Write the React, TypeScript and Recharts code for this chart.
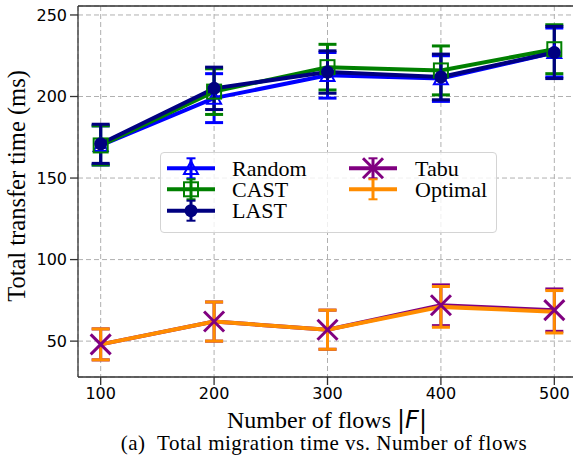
import {
  CartesianGrid,
  ComposedChart,
  ErrorBar,
  Legend,
  Line,
  ReferenceLine,
  XAxis,
  YAxis,
} from "recharts";

// values (mean and +/- error per number of flows)
const flows = [100, 200, 300, 400, 500];
const randomMean = [170, 199, 213, 211, 227];
const randomErr = [12, 15, 14, 14, 15];
const castMean = [170, 203, 218, 216, 229];
const castErr = [12, 14, 14, 15, 15];
const lastMean = [171, 205, 215, 212, 227];
const lastErr = [12, 13, 13, 14, 16];
const tabuMean = [48, 62, 57, 72, 69];
const tabuErr = [9.5, 12, 12, 12.5, 13];
const optimalMean = [48, 62, 57, 71, 68];
const optimalErr = [9.5, 12, 12, 12.5, 13];

const yTicks = [50, 100, 150, 200, 250];
const Y_MIN = 28;
const Y_MAX = 255.5;

const data = flows.map((f, i) => ({
  flows: f,
  random: randomMean[i],
  randomErr: randomErr[i],
  cast: castMean[i],
  castErr: castErr[i],
  last: lastMean[i],
  lastErr: lastErr[i],
  tabu: tabuMean[i],
  tabuErr: tabuErr[i],
  optimal: optimalMean[i],
  optimalErr: optimalErr[i],
}));

type Marker = "triangle" | "square" | "circle" | "x" | "none";

const series: { key: string; name: string; color: string; marker: Marker }[] = [
  { key: "random", name: "Random", color: "#0000ff", marker: "triangle" },
  { key: "cast", name: "CAST", color: "#008000", marker: "square" },
  { key: "last", name: "LAST", color: "#000080", marker: "circle" },
  { key: "tabu", name: "Tabu", color: "#800080", marker: "x" },
  { key: "optimal", name: "Optimal", color: "#ff8c00", marker: "none" },
];

const serif = "'Liberation Serif', 'Times New Roman', serif";
const sans = "'DejaVu Sans', sans-serif";

function MarkerShape({ cx, cy, marker, color }: { cx: number; cy: number; marker: Marker; color: string }) {
  if (marker === "triangle") {
    const s = 7;
    return (
      <polygon
        points={`${cx},${cy - s} ${cx - s},${cy + s * 0.8} ${cx + s},${cy + s * 0.8}`}
        fill="none"
        stroke={color}
        strokeWidth={2}
      />
    );
  }
  if (marker === "square") {
    return <rect x={cx - 7} y={cy - 7} width={14} height={14} fill="none" stroke={color} strokeWidth={2} />;
  }
  if (marker === "circle") {
    return <circle cx={cx} cy={cy} r={6.5} fill={color} />;
  }
  if (marker === "x") {
    const s = 10;
    return (
      <g stroke={color} strokeWidth={3}>
        <line x1={cx - s} y1={cy - s} x2={cx + s} y2={cy + s} />
        <line x1={cx - s} y1={cy + s} x2={cx + s} y2={cy - s} />
      </g>
    );
  }
  return null;
}

function makeDot(marker: Marker, color: string) {
  return (props: any) => {
    const { cx, cy, index } = props;
    if (marker === "none" || cx == null || cy == null) return <g key={`d-${index}`} />;
    return (
      <g key={`d-${index}`}>
        <MarkerShape cx={cx} cy={cy} marker={marker} color={color} />
      </g>
    );
  };
}

function LegendBox() {
  const rows = [16.3, 37.3, 58.7];
  return (
    <div
      style={{
        width: 337,
        height: 81,
        boxSizing: "border-box",
        border: "1px solid #d4d4d4",
        borderRadius: 4,
        background: "rgba(255,255,255,0.8)",
      }}
    >
      <svg width={335} height={79} style={{ display: "block" }}>
        {series.map((s, i) => {
          const col = i < 3 ? 0 : 1;
          const row = i < 3 ? i : i - 3;
          const hx = col === 0 ? 6 : 188;
          const tx = col === 0 ? 71 : 254;
          const cy = rows[row] - 1;
          const cx = hx + 24;
          return (
            <g key={s.key}>
              <line x1={hx} y1={cy} x2={hx + 48} y2={cy} stroke={s.color} strokeWidth={4} />
              <line x1={cx} y1={cy - 10} x2={cx} y2={cy + 10} stroke={s.color} strokeWidth={3} />
              <line x1={cx - 4.5} y1={cy - 10} x2={cx + 4.5} y2={cy - 10} stroke={s.color} strokeWidth={2} />
              <line x1={cx - 4.5} y1={cy + 10} x2={cx + 4.5} y2={cy + 10} stroke={s.color} strokeWidth={2} />
              <MarkerShape cx={cx} cy={cy} marker={s.marker} color={s.color} />
              <text x={tx} y={cy + 7.5} fontFamily={serif} fontSize={22} fill="#000">
                {s.name}
              </text>
            </g>
          );
        })}
      </svg>
    </div>
  );
}

function XLabel() {
  return (
    <g>
      <text x={327} y={427.5} textAnchor="middle" fontFamily={serif} fontSize={24} fill="#000">
        <tspan>Number of flows </tspan>
        <tspan fontFamily={sans}>|</tspan>
        <tspan fontFamily={sans} fontStyle="italic">F</tspan>
        <tspan fontFamily={sans}>|</tspan>
      </text>
      <text x={324} y={450} textAnchor="middle" fontFamily={serif} fontSize={21} letterSpacing={0.5} fill="#000">
        {"(a)\u00a0\u00a0Total migration time vs. Number of flows"}
      </text>
    </g>
  );
}

function YLabel() {
  return (
    <text
      transform="translate(25, 186) rotate(-90)"
      textAnchor="middle"
      fontFamily={serif}
      fontSize={24.5}
      fill="#000"
    >
      Total transfer time (ms)
    </text>
  );
}

export default function App() {
  return (
    <div style={{ position: "absolute", left: 0, top: 0, width: 573, height: 460, overflow: "hidden", background: "#fff" }}>
      <ComposedChart width={580} height={460} data={data} margin={{ top: 6, right: 3, bottom: 53, left: 18 }}>
        <CartesianGrid stroke="#b0b0b0" strokeDasharray="5 3" strokeWidth={1} />
        <XAxis
          dataKey="flows"
          type="number"
          domain={[80, 520]}
          ticks={flows}
          height={30}
          tickSize={8}
          tickMargin={3}
          axisLine={{ stroke: "#333", strokeWidth: 1.3 }}
          tickLine={{ stroke: "#333", strokeWidth: 1.3 }}
          tick={{ fontSize: 16, fill: "#000", fontFamily: sans }}
          label={<XLabel />}
        />
        <YAxis
          type="number"
          domain={[Y_MIN, Y_MAX]}
          ticks={yTicks}
          allowDataOverflow
          width={60}
          tickSize={8}
          tickMargin={3}
          axisLine={{ stroke: "#333", strokeWidth: 1.3 }}
          tickLine={{ stroke: "#333", strokeWidth: 1.3 }}
          tick={{ fontSize: 16, fill: "#000", fontFamily: sans }}
          label={<YLabel />}
        />
        <ReferenceLine y={Y_MAX} stroke="#333" strokeWidth={1.3} />
        {series.map((s) => (
          <Line
            key={s.key}
            dataKey={s.key}
            type="linear"
            stroke={s.color}
            strokeWidth={4}
            dot={makeDot(s.marker, s.color)}
            activeDot={false}
            isAnimationActive={false}
          >
            <ErrorBar
              dataKey={`${s.key}Err`}
              direction="y"
              width={9}
              stroke={s.color}
              strokeWidth={3}
              isAnimationActive={false}
            />
          </Line>
        ))}
        <Legend
          layout="vertical"
          align="center"
          verticalAlign="middle"
          content={<LegendBox />}
          wrapperStyle={{ position: "absolute", left: 160, top: 152, width: 337, height: 81 }}
        />
      </ComposedChart>
    </div>
  );
}
